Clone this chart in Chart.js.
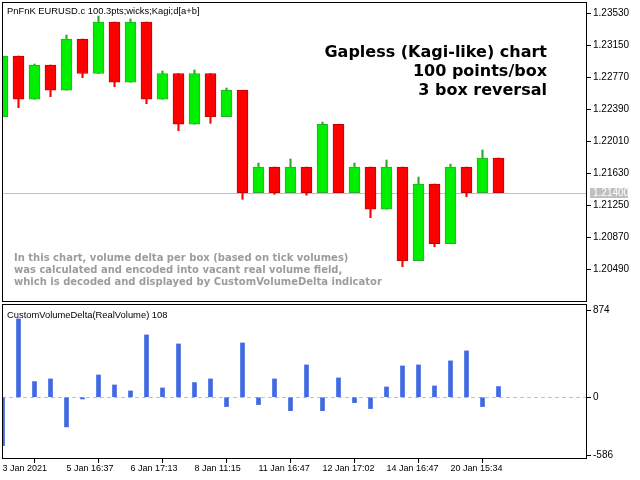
<!DOCTYPE html>
<html>
<head>
<meta charset="utf-8">
<script src="https://cdn.jsdelivr.net/npm/chart.js@4.4.0/dist/chart.umd.min.js"></script>
<style>
  html, body { margin: 0; padding: 0; background: #fff; }
  #wrap { position: relative; width: 640px; height: 480px; overflow: hidden; }
  #wrap div { position: absolute; left: 0; width: 640px; }
</style>
</head>
<body>
<div id="wrap">
  <div style="top:0;height:303px"><canvas id="priceChart"></canvas></div>
  <div style="top:303px;height:177px"><canvas id="deltaChart"></canvas></div>
</div>
<script>
// Cajas del gráfico (open / close / high / low), una por cada caja
const boxOpen  = [1.22302, 1.23023, 1.22509, 1.22916, 1.22617, 1.23225, 1.22815, 1.23427,
                  1.22711, 1.23427, 1.22509, 1.22815, 1.22213, 1.22815, 1.22302, 1.22617,
                  1.21400, 1.21705, 1.21400, 1.21705, 1.21400, 1.22213, 1.21400, 1.21705,
                  1.21203, 1.21705, 1.20592, 1.21503, 1.20794, 1.21705, 1.21400, 1.21812];
const boxClose = [1.23023, 1.22509, 1.22916, 1.22617, 1.23225, 1.22815, 1.23427, 1.22711,
                  1.23427, 1.22509, 1.22815, 1.22213, 1.22815, 1.22302, 1.22617, 1.21400,
                  1.21705, 1.21400, 1.21705, 1.21400, 1.22213, 1.21400, 1.21705, 1.21203,
                  1.21705, 1.20592, 1.21503, 1.20794, 1.21705, 1.21400, 1.21812, 1.21400];
const boxHigh  = [1.23023, 1.23023, 1.22928, 1.22916, 1.23272, 1.23225, 1.23498, 1.23427,
                  1.23462, 1.23427, 1.22845, 1.22815, 1.22857, 1.22815, 1.22643, 1.22617,
                  1.21752, 1.21705, 1.21800, 1.21705, 1.22239, 1.22213, 1.21752, 1.21705,
                  1.21788, 1.21705, 1.21586, 1.21503, 1.21740, 1.21705, 1.21907, 1.21812];
const boxLow   = [1.22302, 1.22409, 1.22509, 1.22540, 1.22617, 1.22765, 1.22815, 1.22658,
                  1.22711, 1.22457, 1.22509, 1.22136, 1.22213, 1.22224, 1.22302, 1.21321,
                  1.21400, 1.21381, 1.21400, 1.21370, 1.21400, 1.21400, 1.21400, 1.21103,
                  1.21203, 1.20521, 1.20592, 1.20758, 1.20794, 1.21352, 1.21400, 1.21400];

// Delta de volumen por caja
const volumeDelta = [-488, 790, 158, 185, -299, -17, 225, 124, 64, 629, 94, 538, 148, 185, -94, 548,
                     -74, 185, -135, 326, -135, 195, -54, -114, 104, 316, 326, 114, 367, 468, -94, 108];

// Etiquetas del eje de tiempo (una cada 4 cajas)
const timeLabels = ['3 Jan 2021', '5 Jan 16:37', '6 Jan 17:13', '8 Jan 11:15',
                    '11 Jan 16:47', '12 Jan 17:02', '14 Jan 16:47', '20 Jan 15:34'];
const priceTicks = [1.23530, 1.23150, 1.22770, 1.22390, 1.22010, 1.21630, 1.21250, 1.20870, 1.20490];
const deltaTicks = [874, 0, -586];
const lastPrice = 1.21400;

const titleLines = ['Gapless (Kagi-like) chart', '100 points/box', '3 box reversal'];
const noteLines = [
    'In this chart, volume delta per box (based on tick volumes)',
    'was calculated and encoded into vacant real volume field,',
    'which is decoded and displayed by CustomVolumeDelta indicator'
];

Chart.defaults.font.family = 'Liberation Sans';
Chart.defaults.font.size = 10;
Chart.defaults.color = '#000';

const GREEN = '#00ee00', GREEN_EDGE = '#2ea82e';
const RED = '#ff0000', RED_EDGE = '#c40000';

const xMin = -0.03125, xMax = xMin + 585 / 16;

// Quitar el relleno que Chart.js reserva para las etiquetas extremas
function noPad(s) {
    s.paddingTop = 0;
    s.paddingBottom = 0;
    s.paddingLeft = 0;
    s.paddingRight = 0;
}

// Marco negro alrededor del área del gráfico
const framePlugin = {
    id: 'frame',
    afterDraw(chart) {
        const a = chart.chartArea, ctx = chart.ctx;
        ctx.save();
        ctx.strokeStyle = '#000';
        ctx.lineWidth = 1;
        ctx.strokeRect(Math.round(a.left) + 0.5, Math.round(a.top) + 0.5,
                       Math.round(a.right - a.left) - 1, Math.round(a.bottom - a.top) - 1);
        ctx.restore();
    }
};

// Línea del último precio, textos y etiqueta de precio
const priceOverlay = {
    id: 'priceOverlay',
    beforeDatasetsDraw(chart) {
        const ctx = chart.ctx, a = chart.chartArea;
        const y = Math.round(chart.scales.y.getPixelForValue(lastPrice)) + 0.5;
        ctx.save();
        ctx.strokeStyle = '#c0c0c0';
        ctx.lineWidth = 1;
        ctx.beginPath();
        ctx.moveTo(a.left, y);
        ctx.lineTo(a.right, y);
        ctx.stroke();
        ctx.restore();
    },
    afterDraw(chart) {
        const ctx = chart.ctx, a = chart.chartArea;
        ctx.save();
        ctx.fillStyle = '#000';
        ctx.font = '9.4px "Liberation Sans"';
        ctx.textAlign = 'left';
        ctx.textBaseline = 'alphabetic';
        ctx.fillText('PnFnK EURUSD.c 100.3pts;wicks;Kagi;d[a+b]', 7, 14);

        ctx.font = 'bold 16px "DejaVu Sans"';
        ctx.textAlign = 'right';
        titleLines.forEach((t, i) => ctx.fillText(t, 547, 57 + i * 19));

        ctx.font = 'bold 10px "DejaVu Sans"';
        ctx.fillStyle = '#9c9c9c';
        ctx.textAlign = 'left';
        noteLines.forEach((t, i) => ctx.fillText(t, 14, 260.5 + i * 12.2));

        // Etiqueta gris del último precio
        const y = chart.scales.y.getPixelForValue(lastPrice);
        ctx.fillStyle = '#c0c0c0';
        ctx.fillRect(a.right + 3, Math.round(y) - 5, 38, 10);
        ctx.fillStyle = '#fff';
        ctx.font = '10px "Liberation Sans"';
        ctx.textBaseline = 'middle';
        ctx.fillText(lastPrice.toFixed(5), a.right + 6, Math.round(y) + 0.5);
        ctx.restore();
    }
};

const deltaOverlay = {
    id: 'deltaOverlay',
    beforeDatasetsDraw(chart) {
        const ctx = chart.ctx, a = chart.chartArea;
        const y = Math.round(chart.scales.y.getPixelForValue(0)) + 0.5;
        ctx.save();
        ctx.strokeStyle = '#c0c0c0';
        ctx.setLineDash([4, 3]);
        ctx.beginPath();
        ctx.moveTo(a.left, y);
        ctx.lineTo(a.right, y);
        ctx.stroke();
        ctx.restore();
    },
    afterDraw(chart) {
        const ctx = chart.ctx;
        ctx.save();
        ctx.fillStyle = '#000';
        ctx.font = '9.4px "Liberation Sans"';
        ctx.textBaseline = 'alphabetic';
        ctx.fillText('CustomVolumeDelta(RealVolume) ' + volumeDelta[volumeDelta.length - 1], 7, 15);
        ctx.restore();
    }
};

function createPriceChart() {
    const ctx = document.getElementById('priceChart').getContext('2d');
    const isUp = boxOpen.map((o, i) => boxClose[i] > o);

    new Chart(ctx, {
        type: 'bar',
        data: {
            datasets: [{
                label: 'wicks',
                data: boxOpen.map((o, i) => ({ x: i, y: [boxLow[i], boxHigh[i]] })),
                backgroundColor: isUp.map(u => u ? GREEN_EDGE : RED),
                barThickness: 1.5,
                grouped: false,
                order: 2
            }, {
                label: 'boxes',
                data: boxOpen.map((o, i) => ({ x: i, y: [o, boxClose[i]] })),
                backgroundColor: isUp.map(u => u ? GREEN : RED),
                borderColor: isUp.map(u => u ? GREEN_EDGE : RED_EDGE),
                borderWidth: 1,
                borderSkipped: false,
                barThickness: 11,
                grouped: false,
                order: 1
            }]
        },
        options: {
            responsive: true,
            maintainAspectRatio: false,
            animation: false,
            layout: { padding: { left: 2, top: 2, right: 0, bottom: 1 } },
            plugins: { legend: { display: false }, tooltip: { enabled: false } },
            scales: {
                x: { type: 'linear', offset: false, min: xMin, max: xMax, display: false },
                y: {
                    position: 'right',
                    min: 1.20102,
                    max: 1.23664,
                    afterBuildTicks: s => { s.ticks = priceTicks.map(v => ({ value: v })); },
                    afterFit: s => { s.width = 53; noPad(s); },
                    border: { display: false },
                    grid: { drawOnChartArea: false, color: '#000', tickLength: 4 },
                    ticks: { padding: 2, callback: v => v.toFixed(5) }
                }
            }
        },
        plugins: [priceOverlay, framePlugin]
    });
}

function createDeltaChart() {
    const ctx = document.getElementById('deltaChart').getContext('2d');

    new Chart(ctx, {
        type: 'bar',
        data: {
            datasets: [{
                label: 'delta',
                data: volumeDelta.map((v, i) => ({ x: i, y: v })),
                backgroundColor: '#4169e1',
                barThickness: 4
            }]
        },
        options: {
            responsive: true,
            maintainAspectRatio: false,
            animation: false,
            layout: { padding: { left: 2, top: 1, right: 0, bottom: 0 } },
            plugins: { legend: { display: false }, tooltip: { enabled: false } },
            scales: {
                x: {
                    type: 'linear',
                    offset: false,
                    min: xMin,
                    max: xMax,
                    afterBuildTicks: s => { s.ticks = timeLabels.map((t, i) => ({ value: i * 4 })); },
                    afterFit: s => { s.height = 21; noPad(s); },
                    border: { display: false },
                    grid: { drawOnChartArea: false, color: '#000', tickLength: 4 },
                    ticks: {
                        align: 'start',
                        maxRotation: 0,
                        autoSkip: false,
                        padding: 0,
                        font: { size: 9 },
                        callback: (v, i) => timeLabels[i]
                    }
                },
                y: {
                    position: 'right',
                    min: -623,
                    max: 941,
                    afterBuildTicks: s => { s.ticks = deltaTicks.map(v => ({ value: v })); },
                    afterFit: s => { s.width = 53; noPad(s); },
                    border: { display: false },
                    grid: { drawOnChartArea: false, color: '#000', tickLength: 4 },
                    ticks: { padding: 2 }
                }
            }
        },
        plugins: [deltaOverlay, framePlugin]
    });
}

createPriceChart();
createDeltaChart();
</script>
</body>
</html>
